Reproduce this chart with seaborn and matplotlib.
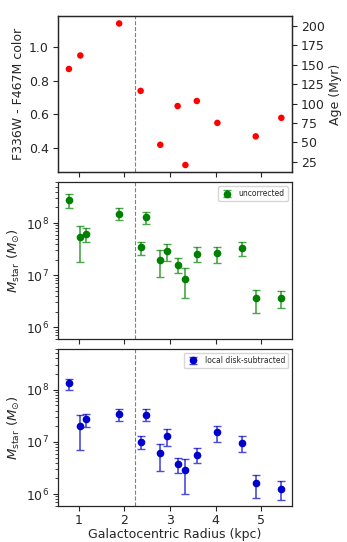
import numpy as np
import matplotlib
matplotlib.use('Agg')
import matplotlib.pyplot as plt
import seaborn as sns

# top panel: colour vs radius
r_color = [0.79, 1.04, 1.89, 2.36, 2.79, 3.17, 3.34, 3.59, 4.04, 4.88, 5.44]
color = [0.87, 0.95, 1.14, 0.74, 0.42, 0.65, 0.30, 0.68, 0.55, 0.47, 0.58]

# stellar mass panels
r_mass = [0.79, 1.04, 1.17, 1.89, 2.36, 2.47, 2.79, 2.93, 3.17, 3.34, 3.59, 4.04, 4.58, 4.88, 5.44]

m_unc = [2.75e8, 5.3e7, 6.1e7, 1.5e8, 3.4e7, 1.28e8, 2.0e7, 2.9e7, 1.57e7, 8.6e6, 2.6e7, 2.7e7, 3.3e7, 3.6e6, 3.6e6]
m_unc_hi = [3.6e8, 8.9e7, 7.9e7, 1.9e8, 4.3e7, 1.65e8, 3.1e7, 3.9e7, 2.1e7, 1.38e7, 3.4e7, 3.5e7, 4.3e7, 5.25e6, 4.9e6]
m_unc_lo = [1.9e8, 1.8e7, 4.3e7, 1.12e8, 2.45e7, 9.7e7, 9.1e6, 1.9e7, 1.08e7, 3.6e6, 1.8e7, 1.75e7, 2.3e7, 1.9e6, 2.4e6]

m_sub = [1.32e8, 2.0e7, 2.7e7, 3.45e7, 1.0e7, 3.35e7, 6.2e6, 1.3e7, 3.8e6, 2.9e6, 5.7e6, 1.53e7, 9.7e6, 1.62e6, 1.28e6]
m_sub_hi = [1.64e8, 3.35e7, 3.5e7, 4.35e7, 1.28e7, 4.3e7, 9.3e6, 1.74e7, 4.97e6, 4.8e6, 7.5e6, 2.04e7, 1.3e7, 2.36e6, 1.79e6]
m_sub_lo = [9.7e7, 7.0e6, 1.9e7, 2.54e7, 7.3e6, 2.5e7, 2.8e6, 8.5e6, 2.5e6, 1.0e6, 3.9e6, 1.0e7, 6.5e6, 8.3e5, 7.7e5]

r_break = 2.23

sns.set_theme(style='ticks', rc={
    'xtick.major.size': 3.5, 'ytick.major.size': 3.5,
    'xtick.minor.size': 2, 'ytick.minor.size': 2,
    'xtick.major.width': 0.8, 'ytick.major.width': 0.8,
    'xtick.minor.width': 0.6, 'ytick.minor.width': 0.6,
    'xtick.major.pad': 2.5, 'ytick.major.pad': 3.0,
    'axes.labelpad': 3.0, 'axes.linewidth': 0.9,
})
plt.rcParams['font.family'] = ['DejaVu Sans']
plt.rcParams['mathtext.fontset'] = 'dejavusans'

fig, axes = plt.subplots(3, 1, figsize=(3.47, 5.42), dpi=100, sharex=True)
fig.subplots_adjust(left=0.167, right=0.841, top=0.971, bottom=0.067, hspace=0.065)

fs = 9

# --- colour panel
ax = axes[0]
sns.scatterplot(x=r_color, y=color, ax=ax, color='red', s=22, edgecolor='none', zorder=3)
ax.axvline(r_break, color='grey', ls='--', lw=0.8)
ax.set_ylabel('F336W - F467M color', fontsize=fs)
ax.set_yticks([0.4, 0.6, 0.8, 1.0])
ax.set_ylim(0.257, 1.186)
ax2 = ax.twinx()
lo, hi = ax.get_ylim()
ax2.set_ylim(217.2 * lo - 44.4, 217.2 * hi - 44.4)
ax2.set_yticks([25, 50, 75, 100, 125, 150, 175, 200])
ax2.set_ylabel('Age (Myr)', fontsize=fs)
ax2.tick_params(labelsize=fs)

# --- mass panels
panels = [
    (axes[1], m_unc, m_unc_lo, m_unc_hi, 'green', 'uncorrected'),
    (axes[2], m_sub, m_sub_lo, m_sub_hi, 'mediumblue', 'local disk-subtracted'),
]
for ax, m, lo, hi, c, lab in panels:
    m = np.array(m)
    yerr = [m - np.array(lo), np.array(hi) - m]
    cont = ax.errorbar(r_mass, m, yerr=yerr, fmt='o', color=c, ms=4.5,
                       capsize=3, elinewidth=1.2, capthick=1.0, label=lab)
    for cl in cont[1]:
        cl.set_alpha(0.7)
    for bl in cont[2]:
        bl.set_alpha(0.7)
    ax.axvline(r_break, color='grey', ls='--', lw=0.8)
    ax.set_yscale('log')
    ax.set_ylim(6e5, 6e8)
    ax.set_ylabel(r'$M_{\rm star}\ (M_{\odot})$', fontsize=9.5)
    ax.legend(loc='upper right', fontsize=5.5, frameon=True, handlelength=1.5)

for ax in axes:
    ax.tick_params(labelsize=fs)
    for s in ax.spines.values():
        s.set_visible(True)

axes[2].set_xlim(0.55, 5.67)
axes[2].set_xticks([1, 2, 3, 4, 5])
axes[2].set_xlabel('Galactocentric Radius (kpc)', fontsize=fs, labelpad=0.5)

fig.savefig('out.png', dpi=100)
